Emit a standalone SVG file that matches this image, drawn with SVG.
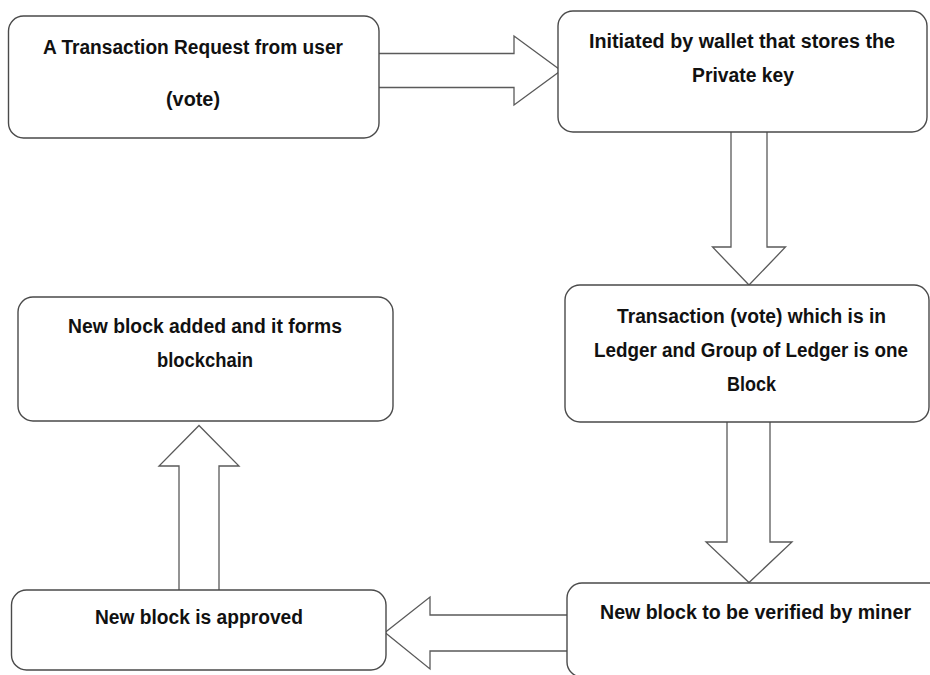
<svg xmlns="http://www.w3.org/2000/svg" width="930" height="675" viewBox="0 0 930 675">
<style>
.box{fill:#fff;stroke:#4a4a4a;stroke-width:1.4}
.arr{fill:#fff;stroke:#5a5a5a;stroke-width:1.3;stroke-linejoin:miter}
.t{font-family:"Liberation Sans",Arial,sans-serif;font-weight:bold;font-size:19.5px;fill:#111;text-anchor:middle}
</style>
<rect width="930" height="675" fill="#fff"/>
<g id="connectors">
<path class="arr" d="M379,53.5 H514 V36 L561,70.5 L514,105 V87.5 H379"/>
<path class="arr" d="M731,132 V247 H712.5 L749,285 L785.5,247 H767 V132"/>
<path class="arr" d="M727,422 V542 H706 L749,582.5 L792,542 H770 V422"/>
<path class="arr" d="M567,615 H430 V597 L385,632.5 L430,669 V651 H567"/>
<path class="arr" d="M179,590 V466 H159 L199,425.5 L239,466 H219 V590"/>
</g>
<g id="node1">
<rect class="box" x="8.5" y="16" width="370.5" height="122" rx="15"/>
<text class="t" x="193" y="54" textLength="300" lengthAdjust="spacingAndGlyphs">A Transaction Request from user</text>
<text class="t" x="193" y="106" textLength="54" lengthAdjust="spacingAndGlyphs">(vote)</text>
</g>
<g id="node2">
<rect class="box" x="558" y="11" width="369" height="121" rx="15"/>
<text class="t" x="742" y="48" textLength="306" lengthAdjust="spacingAndGlyphs">Initiated by wallet that stores the</text>
<text class="t" x="743" y="82" textLength="102" lengthAdjust="spacingAndGlyphs">Private key</text>
</g>
<g id="node3">
<rect class="box" x="565" y="285" width="364" height="137" rx="15"/>
<text class="t" x="751.5" y="323" textLength="269" lengthAdjust="spacingAndGlyphs">Transaction (vote) which is in</text>
<text class="t" x="751" y="357" textLength="314" lengthAdjust="spacingAndGlyphs">Ledger and Group of Ledger is one</text>
<text class="t" x="751.5" y="391" textLength="49" lengthAdjust="spacingAndGlyphs">Block</text>
</g>
<g id="node4">
<rect class="box" x="567" y="583" width="380" height="94" rx="15"/>
<text class="t" x="755.5" y="619" textLength="311" lengthAdjust="spacingAndGlyphs">New block to be verified by miner</text>
</g>
<g id="node5">
<rect class="box" x="11.5" y="590" width="374.5" height="80" rx="15"/>
<text class="t" x="199" y="624" textLength="208" lengthAdjust="spacingAndGlyphs">New block is approved</text>
</g>
<g id="node6">
<rect class="box" x="18" y="297" width="375" height="124" rx="15"/>
<text class="t" x="205" y="333" textLength="274" lengthAdjust="spacingAndGlyphs">New block added and it forms</text>
<text class="t" x="205" y="367" textLength="96" lengthAdjust="spacingAndGlyphs">blockchain</text>
</g>
</svg>
